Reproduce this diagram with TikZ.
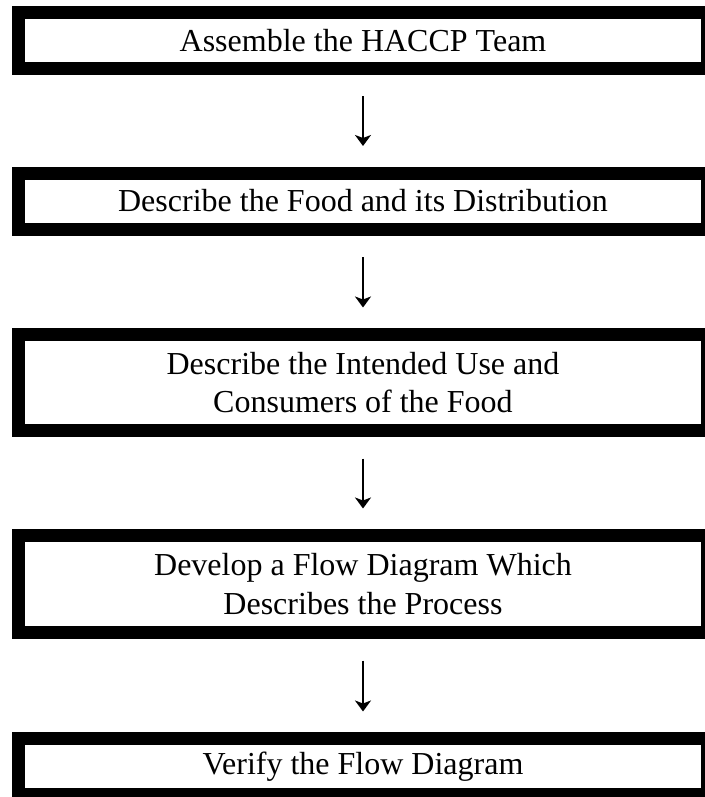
\documentclass[tikz,border=0pt]{standalone}
\usepackage{fontspec}
\setmainfont{Liberation Serif}
\usetikzlibrary{arrows.meta}

\begin{document}
\begin{tikzpicture}[x=1pt, y=-1pt,
	stepbox/.style={draw, line width=13pt, rectangle, inner sep=0pt, outer sep=0pt,
		minimum width=689pt, align=center, font=\fontsize{32}{38.5}\selectfont},
	flow/.style={line width=2.6pt, shorten <=28pt, shorten >=27pt,
		arrows={-Stealth[length=11pt,width=16pt,inset=3pt]}}]
	\useasboundingbox (0,0) rectangle (704,797);

	\node [stepbox, minimum height=56pt] (S1) at (363,40.5) {Assemble the HACCP Team};
	\node [stepbox, minimum height=56pt] (S2) at (363,201) {Describe the Food and its Distribution};
	\node [stepbox, minimum height=96pt] (S3) at (363,382.5) {Describe the Intended Use and\\ Consumers of the Food};
	\node [stepbox, minimum height=97pt] (S4) at (363,584) {Develop a Flow Diagram Which\\ Describes the Process};
	\node [stepbox, minimum height=56pt] (S5) at (363,766.5) {Verify the Flow Diagram};

	\draw [flow] (S1.south) to (S2.north);
	\draw [flow] (S2.south) to (S3.north);
	\draw [flow] (S3.south) to (S4.north);
	\draw [flow] (S4.south) to (S5.north);
\end{tikzpicture}
\end{document}
